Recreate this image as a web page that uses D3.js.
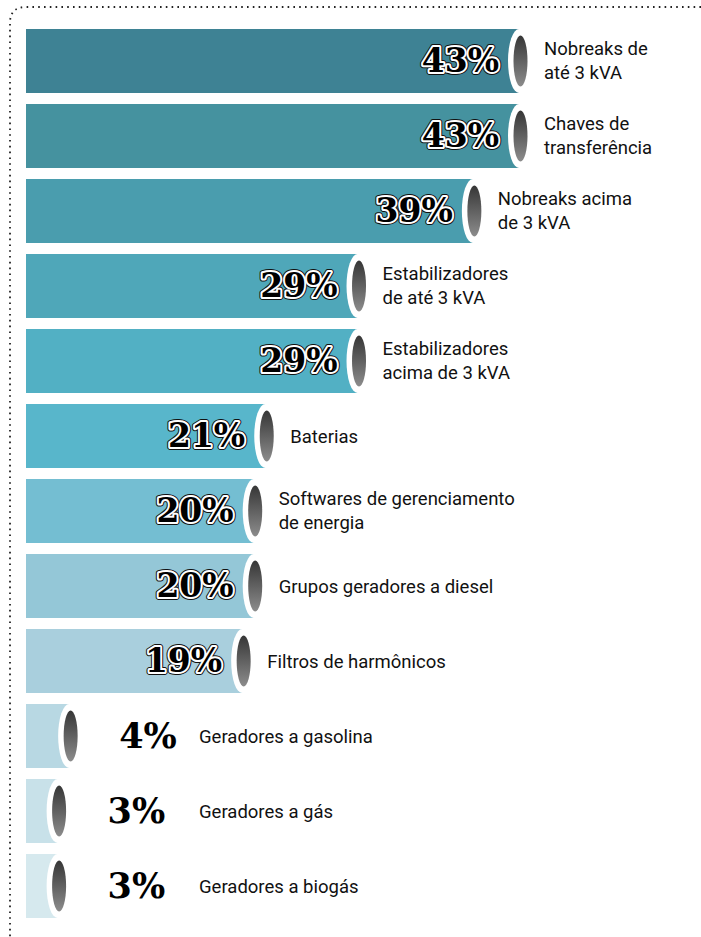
<!DOCTYPE html>
<html>
<head>
<meta charset="utf-8">
<script src="https://cdn.jsdelivr.net/npm/d3@7"></script>
<style>
  body { margin: 0; background: #fff; }
  svg { display: block; }
</style>
</head>
<body>
<svg id="chart" width="701" height="937"></svg>
<script>
// dados
var categories = [
    ["Nobreaks de", "até 3 kVA"],
    ["Chaves de", "transferência"],
    ["Nobreaks acima", "de 3 kVA"],
    ["Estabilizadores", "de até 3 kVA"],
    ["Estabilizadores", "acima de 3 kVA"],
    ["Baterias"],
    ["Softwares de gerenciamento", "de energia"],
    ["Grupos geradores a diesel"],
    ["Filtros de harmônicos"],
    ["Geradores a gasolina"],
    ["Geradores a gás"],
    ["Geradores a biogás"]
];
var values = [43, 43, 39, 29, 29, 21, 20, 20, 19, 4, 3, 3];
var colors = ["#3e8294", "#45929f", "#4a9dae", "#4fa7b9", "#52b0c4", "#58b6cb",
              "#74bed2", "#94c7d7", "#a9cfdd", "#b8d8e3", "#c8e1e9", "#d6e9ee"];

var svg = d3.select("#chart"),
    x0 = 26,
    x = d3.scaleLinear().domain([0, 43]).range([23, 519]),
    y = d3.scaleBand().domain(d3.range(values.length)).range([29, 918]).paddingInner(11 / 75);

var data = values.map(function(v, i){
    return { i: i, value: v, label: categories[i], color: colors[i] };
});

// gradiente da "tampa" do cilindro
var grad = svg.append("defs").append("linearGradient")
    .attr("id", "capGrad").attr("x1", 0).attr("y1", 0).attr("x2", 0).attr("y2", 1);
grad.append("stop").attr("offset", "0%").attr("stop-color", "#363636");
grad.append("stop").attr("offset", "100%").attr("stop-color", "#8c8c8c");

// moldura pontilhada
svg.append("path")
    .attr("d", "M701,7 H26 Q10,7 10,23 V937")
    .attr("fill", "none")
    .attr("stroke", "#222")
    .attr("stroke-width", 1.8)
    .attr("stroke-dasharray", "1.6,4.2");

var g = svg.selectAll("g.bar").data(data).enter().append("g").attr("class", "bar");

g.append("rect")
    .attr("x", x0)
    .attr("y", function(d){ return y(d.i); })
    .attr("width", function(d){ return x(d.value) - x0; })
    .attr("height", y.bandwidth())
    .attr("fill", function(d){ return d.color; });

g.append("ellipse")
    .attr("cx", function(d){ return x(d.value); })
    .attr("cy", function(d){ return y(d.i) + y.bandwidth() / 2; })
    .attr("rx", 11)
    .attr("ry", y.bandwidth() / 2)
    .attr("fill", "#fff");

g.append("ellipse")
    .attr("cx", function(d){ return x(d.value) + 1.5; })
    .attr("cy", function(d){ return y(d.i) + y.bandwidth() / 2; })
    .attr("rx", 7)
    .attr("ry", 25.5)
    .attr("fill", "url(#capGrad)");

// porcentagens
function pctX(d){ return d.value < 10 ? x(d.value) + 50 : x(d.value) - 20; }
function pctY(d){ return y(d.i) + y.bandwidth() / 2 + (d.value < 10 ? 12 : 11); }

var big = g.filter(function(d){ return d.value >= 10; });
[["#111", 6], ["#fff", 4]].forEach(function(s){
    big.append("text")
        .attr("x", pctX).attr("y", pctY)
        .attr("text-anchor", "end")
        .style("font-family", "'DejaVu Serif', serif")
        .style("font-weight", "bold")
        .style("font-size", "33px")
        .attr("fill", "none")
        .attr("stroke", s[0])
        .attr("stroke-width", s[1])
        .attr("stroke-linejoin", "round")
        .text(function(d){ return d.value + "%"; });
});

g.append("text")
    .attr("x", pctX).attr("y", pctY)
    .attr("text-anchor", function(d){ return d.value < 10 ? "start" : "end"; })
    .style("font-family", "'DejaVu Serif', serif")
    .style("font-weight", "bold")
    .style("font-size", function(d){ return d.value < 10 ? "35px" : "33px"; })
    .attr("fill", "#000")
    .text(function(d){ return d.value + "%"; });

// rótulos
var lab = g.append("text")
    .attr("x", function(d){ return d.value < 10 ? 199 : x(d.value) + 25; })
    .attr("y", function(d){
        var c = y(d.i) + y.bandwidth() / 2;
        return d.label.length > 1 ? c - 6 : c + 7;
    })
    .style("font-family", "Roboto, sans-serif")
    .style("font-size", "18.5px")
    .attr("fill", "#111");

lab.selectAll("tspan").data(function(d){ return d.label; }).enter().append("tspan")
    .attr("x", function(){ return d3.select(this.parentNode).attr("x"); })
    .attr("dy", function(t, j){ return j ? 24 : 0; })
    .text(function(t){ return t; });
</script>
</body>
</html>
